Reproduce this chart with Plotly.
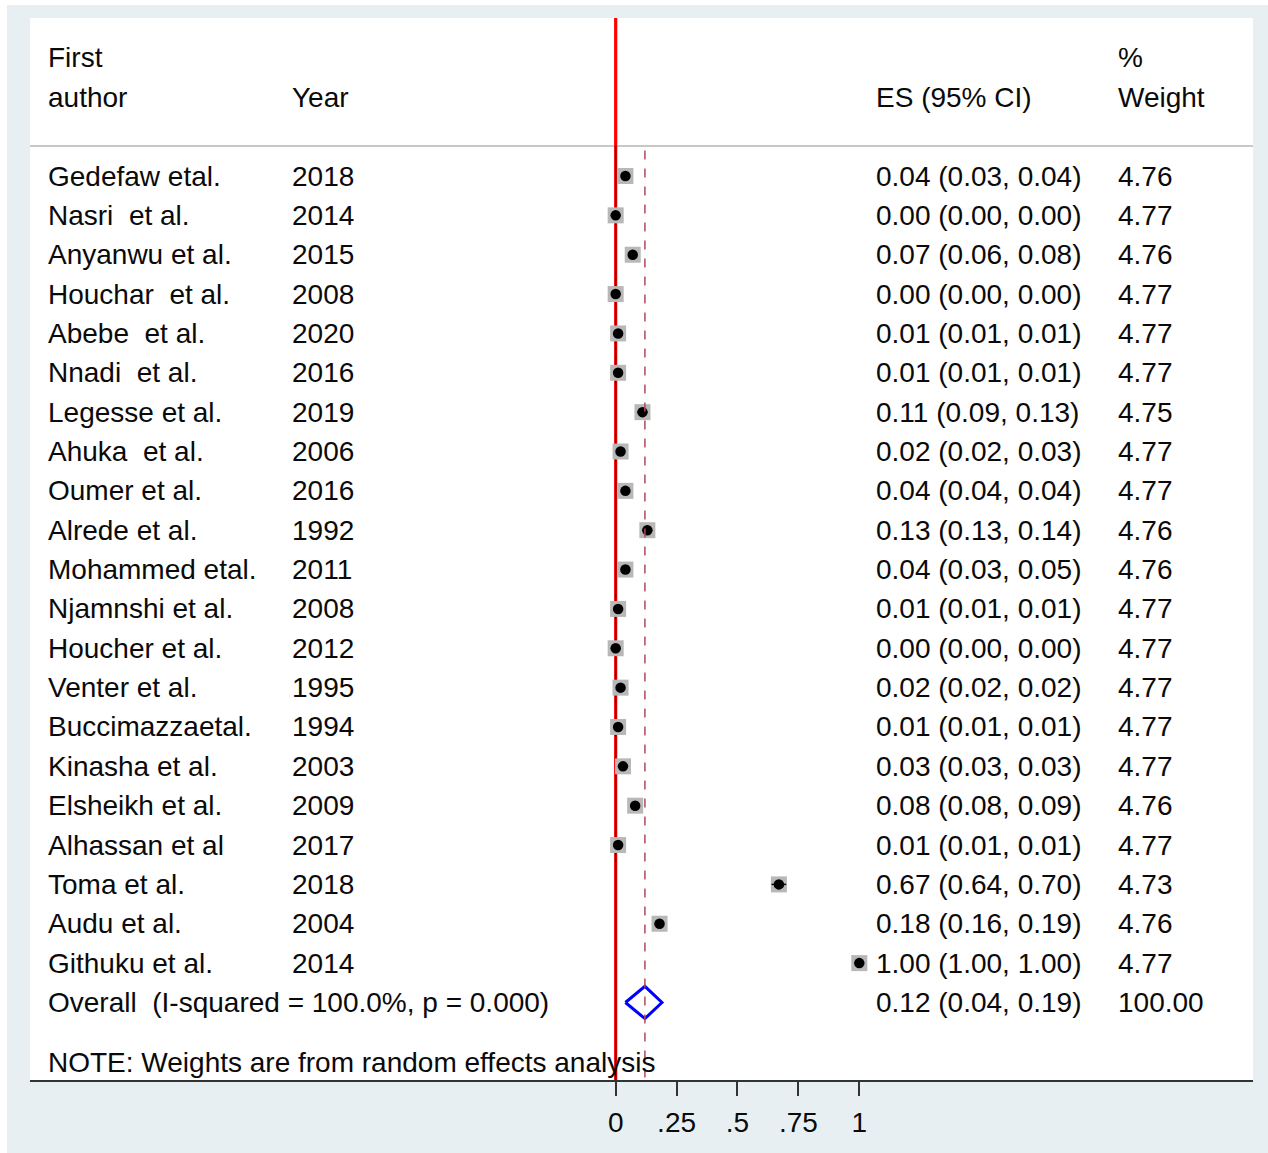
import plotly.graph_objects as go

authors = ["Gedefaw etal.", "Nasri  et al.", "Anyanwu et al.", "Houchar  et al.", "Abebe  et al.",
           "Nnadi  et al.", "Legesse et al.", "Ahuka  et al.", "Oumer et al.", "Alrede et al.",
           "Mohammed etal.", "Njamnshi et al.", "Houcher et al.", "Venter et al.", "Buccimazzaetal.",
           "Kinasha et al.", "Elsheikh et al.", "Alhassan et al", "Toma et al.", "Audu et al.",
           "Githuku et al."]
years = ["2018", "2014", "2015", "2008", "2020", "2016", "2019", "2006", "2016", "1992",
         "2011", "2008", "2012", "1995", "1994", "2003", "2009", "2017", "2018", "2004", "2014"]
es = [0.04, 0.00, 0.07, 0.00, 0.01, 0.01, 0.11, 0.02, 0.04, 0.13,
      0.04, 0.01, 0.00, 0.02, 0.01, 0.03, 0.08, 0.01, 0.67, 0.18, 1.00]
lo = [0.03, 0.00, 0.06, 0.00, 0.01, 0.01, 0.09, 0.02, 0.04, 0.13,
      0.03, 0.01, 0.00, 0.02, 0.01, 0.03, 0.08, 0.01, 0.64, 0.16, 1.00]
hi = [0.04, 0.00, 0.08, 0.00, 0.01, 0.01, 0.13, 0.03, 0.04, 0.14,
      0.05, 0.01, 0.00, 0.02, 0.01, 0.03, 0.09, 0.01, 0.70, 0.19, 1.00]
weights = ["4.76", "4.77", "4.76", "4.77", "4.77", "4.77", "4.75", "4.77", "4.77", "4.76",
           "4.76", "4.77", "4.77", "4.77", "4.77", "4.77", "4.76", "4.77", "4.73", "4.76", "4.77"]
overall_es, overall_lo, overall_hi = 0.12, 0.04, 0.19
overall_label = "Overall  (I-squared = 100.0%, p = 0.000)"
overall_weight = "100.00"
note = "NOTE: Weights are from random effects analysis"
tick_vals = [0, 0.25, 0.5, 0.75, 1]
tick_text = ["0", ".25", ".5", ".75", "1"]

FONT = "Liberation Sans, Arial, sans-serif"
FS = 28
TXT = "#0a0a0a"

n = len(authors)
rows = list(range(1, n + 1))
overall_row = n + 1
note_row = n + 2.52
Y_TOP, Y_BOT = -3.015, 23.97

fig = go.Figure()

# study squares (grey) and points (black)
fig.add_trace(go.Scatter(x=es, y=rows, mode="markers",
                         marker=dict(symbol="square", size=16, color="#b8b8b8"),
                         hoverinfo="skip", showlegend=False))
fig.add_trace(go.Scatter(x=es, y=rows, mode="markers",
                         marker=dict(symbol="circle", size=10.5, color="black"),
                         error_x=dict(type="data", symmetric=False,
                                      array=[h - e for h, e in zip(hi, es)],
                                      arrayminus=[e - l for e, l in zip(es, lo)],
                                      color="black", thickness=1.5, width=0),
                         hoverinfo="skip", showlegend=False))

# overall diamond
h = 0.41
fig.add_trace(go.Scatter(x=[overall_lo, overall_es, overall_hi, overall_es, overall_lo],
                         y=[overall_row, overall_row - h, overall_row, overall_row + h, overall_row],
                         mode="lines", fill="toself", fillcolor="white",
                         line=dict(color="#0000ff", width=3),
                         hoverinfo="skip", showlegend=False))

shapes = []
# null line (red) with dark core
shapes.append(dict(type="line", xref="x", yref="y", x0=0, x1=0, y0=Y_TOP, y1=Y_BOT,
                   line=dict(color="#ff0000", width=3.2), layer="below"))
shapes.append(dict(type="line", xref="x", yref="y", x0=0, x1=0, y0=0.24, y1=Y_BOT,
                   line=dict(color="#300000", width=1.2), layer="below"))
# overall dashed line
shapes.append(dict(type="line", xref="x", yref="y", x0=overall_es, x1=overall_es, y0=0.35, y1=Y_BOT,
                   line=dict(color="#b04a5a", width=1.5, dash="dash"), layer="above"))
# header separator
shapes.append(dict(type="line", xref="paper", yref="y", x0=0, x1=1, y0=0.24, y1=0.24,
                   line=dict(color="#c8c8c8", width=2), layer="below"))
# thin white outer strips (left & top)
shapes.append(dict(type="rect", xref="paper", yref="paper", x0=-0.03, x1=-0.0188, y0=-0.1, y1=1.03,
                   fillcolor="white", line=dict(width=0), layer="above"))
shapes.append(dict(type="rect", xref="paper", yref="paper", x0=-0.03, x1=1.03, y0=1.0122, y1=1.03,
                   fillcolor="white", line=dict(width=0), layer="above"))

col_author, col_year, col_es, col_w = 0.0131, 0.2126, 0.6901, 0.8880

ann = []
def add_text(x, y, t):
    ann.append(dict(x=x, y=y, xref="paper", yref="y", text=t, showarrow=False,
                    xanchor="left", yanchor="middle", font=dict(family=FONT, size=FS, color=TXT)))

# headers
add_text(col_author, -2.0, "First")
add_text(col_author, -1.0, "author")
add_text(col_year, -1.0, "Year")
add_text(col_es, -1.0, "ES (95% CI)")
add_text(col_w, -2.0, "%")
add_text(col_w, -1.0, "Weight")

for i in range(n):
    r = rows[i]
    add_text(col_author, r, authors[i])
    add_text(col_year, r, years[i])
    add_text(col_es, r, f"{es[i]:.2f} ({lo[i]:.2f}, {hi[i]:.2f})")
    add_text(col_w, r, weights[i])

add_text(col_author, overall_row, overall_label)
add_text(col_es, overall_row, f"{overall_es:.2f} ({overall_lo:.2f}, {overall_hi:.2f})")
add_text(col_w, overall_row, overall_weight)
add_text(col_author, note_row, note)

fig.update_layout(
    width=1268, height=1153, autosize=False,
    margin=dict(l=30, r=15, t=18, b=73),
    paper_bgcolor="#e8eff2", plot_bgcolor="white",
    shapes=shapes, annotations=ann,
    xaxis=dict(range=[-2.404, 2.616], tickvals=tick_vals, ticktext=tick_text,
               showgrid=False, zeroline=False, ticks="outside", ticklen=14, tickwidth=2,
               tickcolor="#333333", showline=True, linecolor="#333333", linewidth=2,
               ticklabelstandoff=2,
               tickfont=dict(family=FONT, size=FS, color=TXT), fixedrange=True),
    yaxis=dict(range=[Y_BOT, Y_TOP], visible=False, fixedrange=True),
    font=dict(family=FONT),
)

fig.write_html("out.html")
